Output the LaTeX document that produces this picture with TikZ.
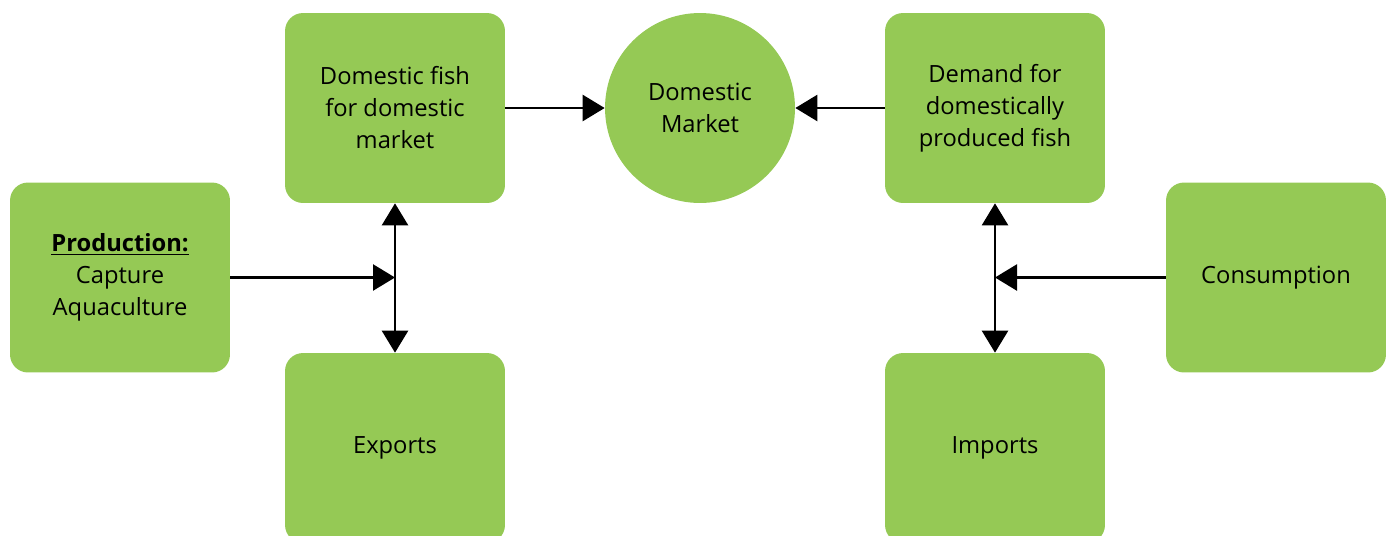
\documentclass[tikz,border=0pt]{standalone}
\usepackage{fontspec}
\setmainfont{Open Sans}
\usetikzlibrary{positioning, arrows.meta}
\definecolor{fishgreen}{RGB}{149,201,85}
\tikzset{
flow/.style={-{Triangle[width=0.52cm, length=0.44cm]}, line width=1.4pt}, % one-way connector
twoway/.style={{Triangle[width=0.52cm, length=0.44cm]}-{Triangle[width=0.52cm, length=0.44cm]}, line width=1.4pt}, % double-headed connector
box/.style={rectangle, rounded corners=0.36cm, fill=fishgreen, minimum width=4.4cm, minimum height=3.8cm, align=center, font=\fontsize{13.5}{18.2}\selectfont}, % green boxes
market/.style={circle, fill=fishgreen, minimum size=3.8cm, align=center, inner sep=0pt, font=\fontsize{13.5}{18.2}\selectfont}, % the round node
}
\begin{document}
\begin{tikzpicture}[x=0.02cm, y=-0.02cm]
                \useasboundingbox (0,0) rectangle (1392,535);
                \clip (0,0) rectangle (1392,535);
                \node[box] (production) at (120,277.5) {\underline{\textbf{Production:}}\\Capture\\Aquaculture};
                \node[box] (domfish) at (395,108) {Domestic fish\\for domestic\\market};
                \node[box] (exports) at (395,448) {Exports};
                \node[market] (dommarket) at (700,108) {Domestic\\Market};
                \node[box] (demand) at (995,108) {Demand for\\domestically\\produced fish};
                \node[box] (imports) at (995,448) {Imports};
                \node[box] (consumption) at (1276,277.5) {Consumption};
                \coordinate (lmeet) at (domfish.south |- production.east);
                \coordinate (rmeet) at (demand.south |- consumption.west);
                \draw[flow] (domfish) -- (dommarket);
                \draw[flow] (demand) -- (dommarket);
                \draw[twoway] (domfish) -- (exports);
                \draw[twoway] (demand) -- (imports);
                \draw[flow] (production) -- (lmeet);
                \draw[flow] (consumption) -- (rmeet);
\end{tikzpicture}
\end{document}
